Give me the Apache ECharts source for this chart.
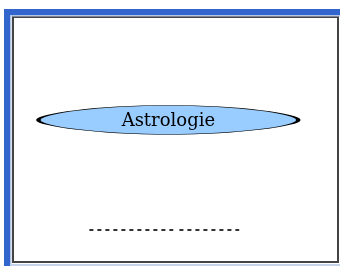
<!DOCTYPE html>
<html>
<head>
<meta charset="utf-8">
<script src="https://cdn.jsdelivr.net/npm/echarts@6/dist/echarts.min.js"></script>
<style>
  html, body { margin: 0; padding: 0; background: #fff; }
  #main { width: 340px; height: 266px; }
</style>
</head>
<body>
<div id="main"></div>
<script>
// node of the diagram (position in axis units, 0..100, y counted from top)
const nodeNames = ['Astrologie']
const nodeX = [47.8]
const nodeY = [42]
// dashed line under the node, two pieces
const dashY = 86.9
const dashPieces = [[23.5, 49.3], [51.2, 69.6]]

// flat ellipse from bezier curves (scaled to symbolSize)
const ellipsePath = 'path://M0,50C0,29 232,0 500,0C768,0 1000,29 1000,50C1000,71 768,100 500,100C232,100 0,71 0,50Z'

const myChart = echarts.init(document.getElementById('main'))

const nodeData = nodeNames.map((n, i) => ({ name: n, value: [nodeX[i], nodeY[i]] }))

const dashSeries = dashPieces.map(p => ({
  type: 'line',
  symbol: 'none',
  silent: true,
  data: [[p[0], dashY], [p[1], dashY]],
  lineStyle: { color: '#333', width: 2, type: [4, 4], cap: 'butt' }
}))

const option = {
  animation: false,
  // blue window frame at the top and left
  graphic: [
    { type: 'rect', shape: { x: 4, y: 9, width: 336, height: 6 }, style: { fill: '#3366cc' } },
    { type: 'rect', shape: { x: 4, y: 9, width: 6, height: 257 }, style: { fill: '#3366cc' } },
    { type: 'rect', shape: { x: 10, y: 15, width: 330, height: 1.5 }, style: { fill: '#b4c6e6' } },
    { type: 'rect', shape: { x: 10, y: 15, width: 1.5, height: 251 }, style: { fill: '#b4c6e6' } },
    { type: 'rect', shape: { x: 10, y: 264, width: 330, height: 2 }, style: { fill: '#c4d2ea' } }
  ],
  grid: {
    left: 13, top: 17, right: 2, bottom: 4,
    show: true,
    borderColor: '#444',
    borderWidth: 2,
    backgroundColor: '#fff'
  },
  xAxis: { type: 'value', min: 0, max: 100, show: false },
  yAxis: { type: 'value', min: 0, max: 100, inverse: true, show: false },
  series: [
    {
      type: 'scatter',
      data: nodeData,
      symbol: ellipsePath,
      symbolSize: [260, 29],
      itemStyle: { color: '#99ccff', borderColor: '#000', borderWidth: 1.5, opacity: 1 },
      label: {
        show: true,
        position: 'inside',
        formatter: '{b}',
        fontFamily: 'DejaVu Serif',
        fontSize: 18,
        color: '#000',
        offset: [0, 1]
      }
    },
    ...dashSeries
  ]
}

myChart.setOption(option)
window.onresize = () => {
  myChart.resize()
}
</script>
</body>
</html>
